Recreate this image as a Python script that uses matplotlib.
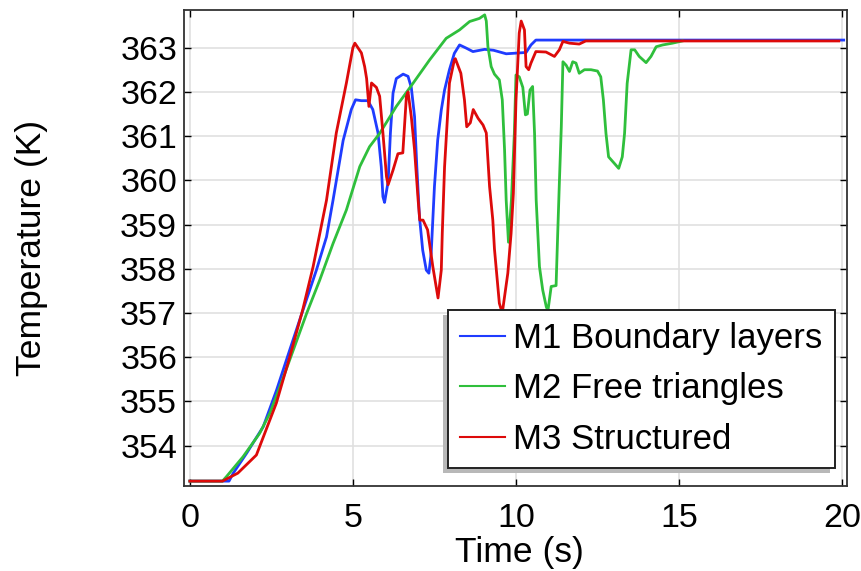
import matplotlib
matplotlib.use('Agg')
import matplotlib.pyplot as plt
from matplotlib.patches import Rectangle

plt.rcParams['font.family'] = ['Liberation Sans', 'DejaVu Sans']

# M1 Boundary layers
t_m1 = [0, 1.2, 1.33, 1.74, 2.25, 2.66, 3.06, 3.47, 3.88, 4.19, 4.39, 4.7, 4.95, 5.08,
        5.26, 5.46, 5.61, 5.77, 5.87, 5.92, 5.97, 6.08, 6.15, 6.23, 6.33, 6.54, 6.69,
        6.79, 6.89, 6.96, 7.04, 7.14, 7.25, 7.33, 7.4, 7.5, 7.6, 7.71, 7.81, 7.96, 8.11,
        8.27, 8.47, 8.68, 9.04, 9.31, 9.7, 10.31, 10.46, 10.61, 20.05]
T_m1 = [353.2, 353.2, 353.38, 353.83, 354.43, 355.26, 356.16, 357.07, 357.97, 358.72,
        359.55, 360.9, 361.6, 361.82, 361.8, 361.8, 361.6, 361.07, 360.3, 359.63, 359.5,
        359.97, 361.07, 361.97, 362.3, 362.4, 362.35, 362.1, 361.44, 360.3, 359.18,
        358.42, 357.97, 357.9, 358.35, 359.86, 360.91, 361.59, 362.04, 362.5, 362.87,
        363.06, 362.99, 362.91, 362.96, 362.94, 362.86, 362.89, 363.06, 363.17, 363.17]

# M2 Free triangles
t_m2 = [0, 1.0, 1.12, 1.63, 2.14, 2.45, 2.76, 3.17, 3.58, 3.98, 4.39, 4.8, 5.21, 5.51,
        5.82, 6.33, 6.84, 7.35, 7.86, 8.27, 8.58, 8.88, 9.04, 9.09, 9.14, 9.24, 9.34,
        9.49, 9.58, 9.65, 9.7, 9.77, 9.86, 9.95, 10.0, 10.1, 10.21, 10.29, 10.35, 10.43,
        10.51, 10.57, 10.62, 10.72, 10.82, 10.93, 10.98, 11.08, 11.23, 11.28, 11.33,
        11.39, 11.44, 11.54, 11.64, 11.74, 11.84, 11.94, 12.1, 12.3, 12.5, 12.6, 12.68,
        12.76, 12.84, 13.02, 13.15, 13.26, 13.33, 13.41, 13.53, 13.64, 13.78, 13.99,
        14.14, 14.3, 14.5, 14.8, 15.1]
T_m2 = [353.2, 353.2, 353.3, 353.75, 354.28, 354.73, 355.33, 356.16, 356.99, 357.74,
        358.57, 359.33, 360.31, 360.76, 361.06, 361.67, 362.19, 362.72, 363.21, 363.4,
        363.59, 363.66, 363.74, 363.6, 363.02, 362.57, 362.4, 362.27, 361.82, 360.69,
        359.55, 358.6, 359.55, 361.06, 362.38, 362.34, 362.1, 361.48, 361.5, 362.04,
        362.12, 361.06, 359.55, 358.05, 357.52, 357.14, 357.05, 357.6, 357.62, 358.8,
        359.93, 361.21, 362.68, 362.6, 362.46, 362.68, 362.65, 362.42, 362.5, 362.5,
        362.47, 362.34, 361.82, 361.06, 360.53, 360.38, 360.27, 360.53, 361.06, 362.19,
        362.95, 362.95, 362.8, 362.66, 362.8, 363.02, 363.06, 363.1, 363.15]

# M3 Structured
t_m3 = [0, 1.0, 1.47, 2.04, 2.65, 3.06, 3.46, 3.78, 4.19, 4.49, 4.8, 5.0, 5.06, 5.26,
        5.36, 5.42, 5.49, 5.57, 5.72, 5.82, 5.92, 6.03, 6.08, 6.23, 6.38, 6.53, 6.64,
        6.69, 6.79, 6.89, 7.0, 7.05, 7.15, 7.29, 7.45, 7.61, 7.71, 7.74, 7.81, 7.96,
        8.11, 8.14, 8.31, 8.42, 8.49, 8.6, 8.69, 8.84, 8.99, 9.09, 9.19, 9.29, 9.34,
        9.49, 9.58, 9.75, 9.85, 9.92, 10.0, 10.1, 10.16, 10.26, 10.31, 10.39, 10.46,
        10.61, 10.92, 11.18, 11.33, 11.44, 11.64, 11.94, 12.14, 12.86, 19.9]
T_m3 = [353.2, 353.2, 353.38, 353.79, 354.96, 356.0, 357.07, 358.05, 359.55, 361.07,
        362.2, 363.0, 363.1, 362.88, 362.57, 362.3, 361.67, 362.2, 362.1, 361.9, 361.07,
        360.08, 359.9, 360.23, 360.6, 360.62, 361.9, 362.0, 361.44, 360.69, 359.55,
        359.1, 359.1, 358.88, 358.05, 357.34, 357.97, 358.8, 360.3, 362.2, 362.72,
        362.75, 362.42, 361.82, 361.21, 361.3, 361.6, 361.4, 361.25, 361.07, 359.86,
        359.1, 358.45, 357.22, 357.0, 357.9, 358.8, 359.7, 361.8, 363.33, 363.6, 363.4,
        362.57, 362.5, 362.65, 362.91, 362.9, 362.8, 362.95, 363.14, 363.1, 363.08,
        363.15, 363.15, 363.15]

labels = ['M1 Boundary layers', 'M2 Free triangles', 'M3 Structured']
colors = ['#1f3cff', '#2fbf3c', '#dd0a0a']
x_ticks = [0, 5, 10, 15, 20]
y_ticks = list(range(354, 364))

fig = plt.figure(figsize=(8.61, 5.71), dpi=100)
ax = fig.add_axes([0.2137, 0.1489, 0.77, 0.8336])

for t, T, lab, c in zip([t_m1, t_m2, t_m3], [T_m1, T_m2, T_m3], labels, colors):
    ax.plot(t, T, color=c, lw=2.0, label=lab)

ax.set_xlim(-0.18, 20.15)
ax.set_ylim(353.09, 363.85)
ax.set_xticks(x_ticks)
ax.set_yticks(y_ticks)
ax.tick_params(direction='in', top=True, right=True, length=5, width=1,
               labelsize=24.5)
ax.tick_params(axis='x', pad=12.5)
ax.tick_params(axis='y', pad=5)
ax.grid(True, color='#e0e0e0', lw=1.2)
ax.set_axisbelow(True)
for s in ax.spines.values():
    s.set_color('#333333')
    s.set_linewidth(1.3)

ax.set_xlabel('Time (s)', fontsize=25.5)
ax.set_ylabel('Temperature (K)', fontsize=25.5)
ax.xaxis.set_label_coords(0.506, -0.105)
ax.yaxis.set_label_coords(-0.205, 0.5)

leg = ax.legend(loc='upper left', bbox_to_anchor=(0.398, 0.37),
                borderaxespad=0, fontsize=25, fancybox=False,
                framealpha=1, edgecolor='#222222', handlelength=1.3,
                handletextpad=0.23, labelspacing=0.5, borderpad=0.35)
leg.get_frame().set_linewidth(1.4)
leg.set_zorder(5)
for h in leg.legend_handles:
    h.set_linewidth(1.5)

# gray drop shadow to the lower left of the legend box
fig.canvas.draw()
bb = leg.get_frame().get_window_extent()
shadow = Rectangle((bb.x0 - 5, bb.y0 - 5), bb.width, bb.height, transform=None,
                   facecolor='#b8b8b8', edgecolor='none', zorder=4.9)
ax.add_artist(shadow)

fig.savefig('out.png', dpi=100)
